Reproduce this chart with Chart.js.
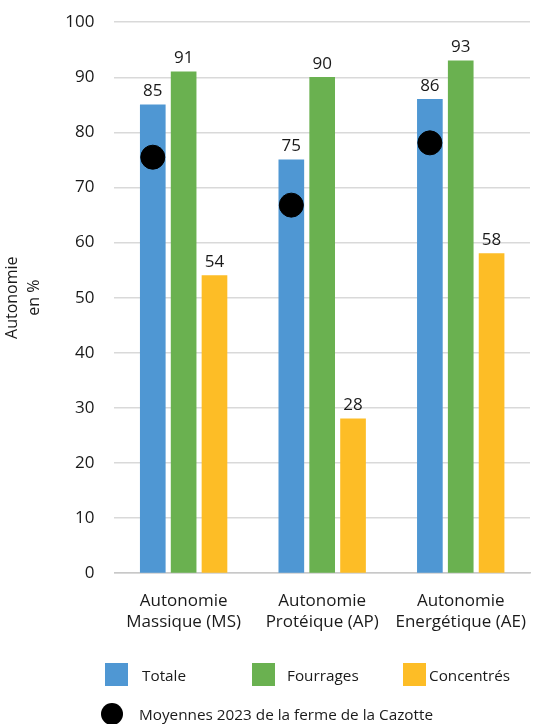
<!DOCTYPE html>
<html>
<head>
<meta charset="utf-8">
<script src="https://cdn.jsdelivr.net/npm/chart.js@4.4.1/dist/chart.umd.min.js"></script>
<style>
  html, body { margin: 0; padding: 0; background: #fff; overflow: hidden; }
  #wrap { position: relative; width: 543px; height: 724px; font-family: "Open Sans", sans-serif; color: #1a1a1a; }
  #chart { position: absolute; left: 0; top: -8px; }
  .lg { position: absolute; font-size: 15.3px; line-height: 18px; }
  .sq { position: absolute; width: 23px; height: 23px; }
  .dot { position: absolute; width: 22px; height: 22px; border-radius: 50%; background: #000; }
</style>
</head>
<body>
<div id="wrap">
  <canvas id="chart" width="543" height="732"></canvas>
  <div class="sq" style="left:105px;top:663px;background:#4f97d3"></div>
  <div class="lg" style="left:142px;top:666px">Totale</div>
  <div class="sq" style="left:252px;top:663px;background:#6ab150"></div>
  <div class="lg" style="left:287px;top:666px">Fourrages</div>
  <div class="sq" style="left:403px;top:663px;background:#fdbd26"></div>
  <div class="lg" style="left:429px;top:666px">Concentrés</div>
  <div class="dot" style="left:101px;top:703px"></div>
  <div class="lg" style="left:139px;top:705px">Moyennes 2023 de la ferme de la Cazotte</div>
</div>
<script>
// --- data ---
var categories = [["Autonomie", "Massique (MS)"], ["Autonomie", "Protéique (AP)"], ["Autonomie", "Energétique (AE)"]];
var totale = [85, 75, 86];
var fourrages = [91, 90, 93];
var concentres = [54, 28, 58];
var moyennes2023 = [75.5, 66.8, 78.1];
var yTicks = [0, 10, 20, 30, 40, 50, 60, 70, 80, 90, 100];

// x is a linear axis, one unit per category; bars are shifted inside the group
var shift = 0.2227;
function pts(values, off) {
	return values.map((v, i) => ({ x: i + off, y: v }));
}

// values above the bars
var valueLabels = {
	id: "valueLabels",
	afterDatasetsDraw(chart) {
		var ctx = chart.ctx;
		ctx.save();
		ctx.font = "17px 'Open Sans', sans-serif";
		ctx.fillStyle = "#1a1a1a";
		ctx.textAlign = "center";
		ctx.textBaseline = "bottom";
		chart.data.datasets.forEach(function(ds, i) {
			if (ds.type !== "bar") return;
			chart.getDatasetMeta(i).data.forEach(function(bar, j) {
				ctx.fillText(ds.data[j].y, bar.x, bar.y - 5);
			});
		});
		ctx.restore();
	}
};

new Chart(document.getElementById("chart"), {
	data: {
		datasets: [
			{ type: "bar", label: "Totale", data: pts(totale, -shift), backgroundColor: "#4f97d3", order: 2 },
			{ type: "bar", label: "Fourrages", data: pts(fourrages, 0), backgroundColor: "#6ab150", order: 2 },
			{ type: "bar", label: "Concentrés", data: pts(concentres, shift), backgroundColor: "#fdbd26", order: 2 },
			{
				type: "scatter",
				label: "Moyennes 2023 de la ferme de la Cazotte",
				data: pts(moyennes2023, -shift),
				backgroundColor: "#000",
				borderColor: "#000",
				pointRadius: 12,
				order: 1
			}
		]
	},
	options: {
		responsive: false,
		animation: false,
		layout: { padding: { top: 4, right: 0, bottom: 82, left: 2 } },
		datasets: { bar: { grouped: false, barThickness: 25 } },
		plugins: { legend: { display: false }, tooltip: { enabled: false } },
		scales: {
			x: {
				type: "linear",
				min: -0.5,
				max: 2.5,
				offset: false,
				afterBuildTicks: function(axis) { axis.ticks = categories.map((c, i) => ({ value: i })); },
				afterFit: function(axis) { axis.paddingLeft = 0; axis.paddingRight = 0; },
				grid: { display: false, offset: false },
				border: { display: true, color: "#c8c8c8", width: 1.5 },
				ticks: {
					color: "#1a1a1a",
					font: { family: "'Open Sans', sans-serif", size: 17 },
					padding: 10,
					maxRotation: 0,
					autoSkip: false,
					callback: function(v) { return categories[v]; }
				}
			},
			y: {
				min: 0,
				max: 100,
				afterBuildTicks: function(axis) { axis.ticks = yTicks.map(v => ({ value: v })); },
				grid: { color: "#d9d9d9", lineWidth: 1.5, drawTicks: false },
				border: { display: false },
				ticks: { color: "#1a1a1a", font: { family: "'Open Sans', sans-serif", size: 17 }, padding: 20 },
				title: {
					display: true,
					text: ["Autonomie", "en %"],
					color: "#1a1a1a",
					font: { family: "'Open Sans', sans-serif", size: 16, lineHeight: 1.35 },
					padding: { top: 0, bottom: 0 }
				}
			}
		}
	},
	plugins: [valueLabels]
});
</script>
</body>
</html>
